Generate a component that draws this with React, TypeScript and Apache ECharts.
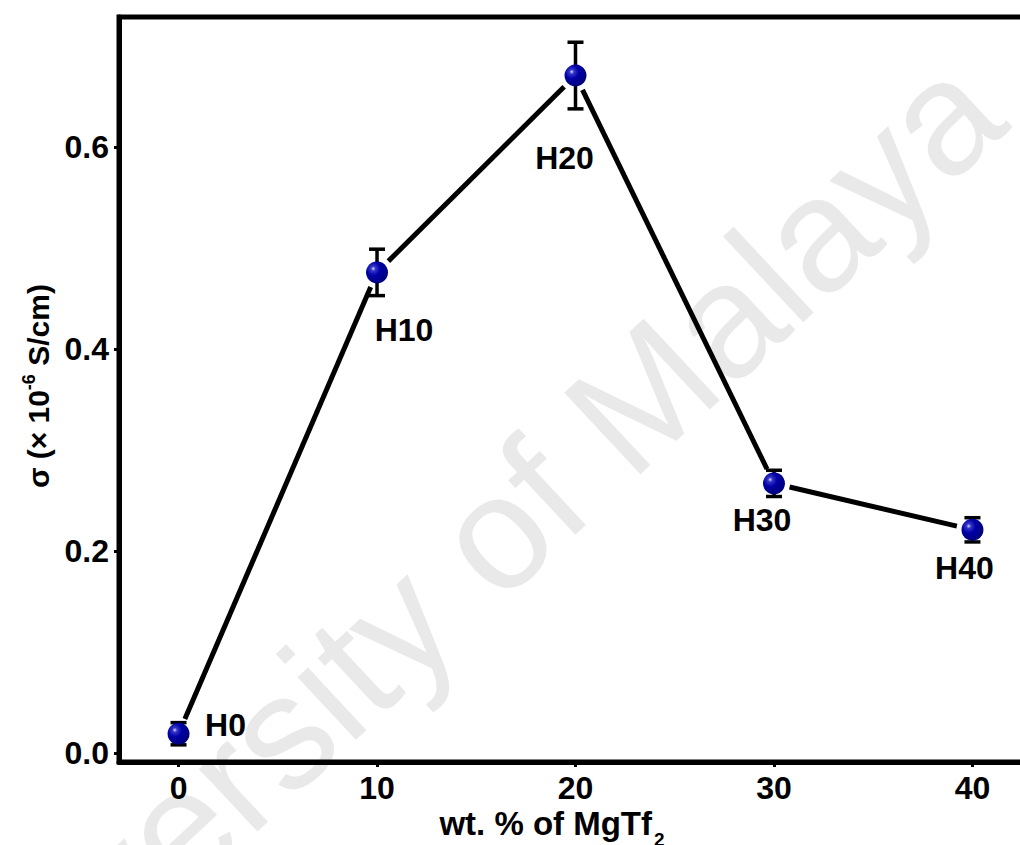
import React, { useEffect, useRef } from "react";
import * as echarts from "echarts";

const xValues = [0, 10, 20, 30, 40];
const sigmaValues = [0.019, 0.476, 0.671, 0.267, 0.221];
const errorValues = [0.011, 0.023, 0.033, 0.013, 0.012];
const sampleLabels = ["H0", "H10", "H20", "H30", "H40"];
const xTicks = [0, 10, 20, 30, 40];
const yTicks = [0, 0.2, 0.4, 0.6];
const labelOffsets = [[47, -9], [27, 58], [-11, 82], [-12, 37], [-8, 38]];

const FONT = "Liberation Sans, Arial, sans-serif";

export default function App() {
  const ref = useRef<HTMLDivElement>(null);
  useEffect(() => {
    if (!ref.current) return;
    const chart = echarts.init(ref.current, null, { renderer: "svg" });
    const points = xValues.map((x, i) => [x, sigmaValues[i], errorValues[i]]);
    const gap = 16;
    const option: any = {
      animation: false,
      backgroundColor: "#fff",
      grid: {
        left: 119,
        top: 17,
        right: 28,
        bottom: 83,
        show: true,
        borderColor: "#000",
        borderWidth: 5,
        backgroundColor: "transparent",
      },
      xAxis: {
        type: "value",
        min: -3,
        max: 43,
        splitLine: { show: false },
        axisLine: { show: true, onZero: false, lineStyle: { color: "#000", width: 5 } },
        axisTick: { show: true, customValues: xTicks, length: 5, lineStyle: { color: "#000", width: 3 } },
        axisLabel: {
          customValues: xTicks,
          color: "#000",
          fontFamily: FONT,
          fontWeight: "bold",
          fontSize: 32,
          margin: 10,
        },
      },
      yAxis: {
        type: "value",
        min: -0.009,
        max: 0.729,
        splitLine: { show: false },
        axisLine: { show: true, onZero: false, lineStyle: { color: "#000", width: 5 } },
        axisTick: { show: true, customValues: yTicks, length: 5, lineStyle: { color: "#000", width: 3 } },
        axisLabel: {
          customValues: yTicks,
          color: "#000",
          fontFamily: FONT,
          fontWeight: "bold",
          fontSize: 32,
          margin: 10,
          formatter: (v: number) => v.toFixed(1),
        },
      },
      graphic: [
        {
          type: "text",
          z: -10,
          silent: true,
          x: 441,
          y: 583,
          rotation: (43 * Math.PI) / 180,
          style: {
            text: "University of Malaya",
            fill: "#e9e9e9",
            font: `162px ${FONT}`,
            textAlign: "center",
            textVerticalAlign: "middle",
          },
        },
        {
          type: "text",
          x: 38,
          y: 386,
          rotation: Math.PI / 2,
          style: {
            text: "{s|σ}{a|(× 10}{b|-6}{a| S/cm)}",
            textAlign: "center",
            textVerticalAlign: "middle",
            fill: "#000",
            rich: {
              s: { fontFamily: FONT, fontWeight: "bold", fontSize: 30, lineHeight: 36, fill: "#000", padding: [0, 8, 0, 0] },
              a: { fontFamily: FONT, fontWeight: "bold", fontSize: 30, lineHeight: 36, fill: "#000" },
              b: { fontFamily: FONT, fontWeight: "bold", fontSize: 18, verticalAlign: "top", lineHeight: 36, fill: "#000" },
            },
          },
        },
        {
          type: "text",
          x: 552,
          y: 823,
          style: {
            text: "{a|wt. % of MgTf}{b|2}",
            textAlign: "center",
            textVerticalAlign: "middle",
            fill: "#000",
            rich: {
              a: { fontFamily: FONT, fontWeight: "bold", fontSize: 33, lineHeight: 36, fill: "#000" },
              b: { fontFamily: FONT, fontWeight: "bold", fontSize: 19, verticalAlign: "bottom", padding: [0, 0, -8, 2], fill: "#000" },
            },
          },
        },
      ],
      series: [
        {
          type: "custom",
          name: "line",
          z: 2,
          data: points,
          renderItem: (params: any, api: any) => {
            const i = params.dataIndex;
            if (i >= xValues.length - 1) return { type: "group", children: [] };
            const p0 = api.coord([xValues[i], sigmaValues[i]]);
            const p1 = api.coord([xValues[i + 1], sigmaValues[i + 1]]);
            const dx = p1[0] - p0[0];
            const dy = p1[1] - p0[1];
            const len = Math.sqrt(dx * dx + dy * dy);
            const ux = dx / len;
            const uy = dy / len;
            return {
              type: "line",
              shape: {
                x1: p0[0] + ux * gap,
                y1: p0[1] + uy * gap,
                x2: p1[0] - ux * gap,
                y2: p1[1] - uy * gap,
              },
              style: { stroke: "#000", lineWidth: 5 },
            };
          },
        },
        {
          type: "custom",
          name: "error",
          z: 3,
          data: points,
          renderItem: (params: any, api: any) => {
            const x = api.value(0);
            const y = api.value(1);
            const e = api.value(2);
            const top = api.coord([x, y + e]);
            const bot = api.coord([x, y - e]);
            const hw = 8;
            const st = { stroke: "#000", lineWidth: 3.5 };
            return {
              type: "group",
              children: [
                { type: "line", shape: { x1: top[0], y1: top[1], x2: bot[0], y2: bot[1] }, style: st },
                { type: "line", shape: { x1: top[0] - hw, y1: top[1], x2: top[0] + hw, y2: top[1] }, style: st },
                { type: "line", shape: { x1: bot[0] - hw, y1: bot[1], x2: bot[0] + hw, y2: bot[1] }, style: st },
              ],
            };
          },
        },
        {
          type: "scatter",
          name: "sigma",
          z: 4,
          symbol: "circle",
          symbolSize: 22,
          itemStyle: {
            opacity: 1,
            color: {
              type: "radial",
              x: 0.33,
              y: 0.33,
              r: 0.7,
              colorStops: [
                { offset: 0, color: "#d8d8ff" },
                { offset: 0.15, color: "#3535c8" },
                { offset: 0.45, color: "#0000a6" },
                { offset: 1, color: "#00007c" },
              ],
            },
          },
          label: {
            show: true,
            position: "inside",
            color: "#000",
            textBorderWidth: 0,
            fontFamily: FONT,
            fontWeight: "bold",
            fontSize: 32,
          },
          data: points.map((p, i) => ({
            value: [p[0], p[1]],
            label: {
              formatter: sampleLabels[i],
              offset: labelOffsets[i],
            },
          })),
        },
      ],
    };
    chart.setOption(option);
    return () => chart.dispose();
  }, []);
  return (
    <div
      ref={ref}
      style={{ position: "fixed", left: 0, top: 0, width: 1060, height: 845, background: "#fff" }}
    />
  );
}
